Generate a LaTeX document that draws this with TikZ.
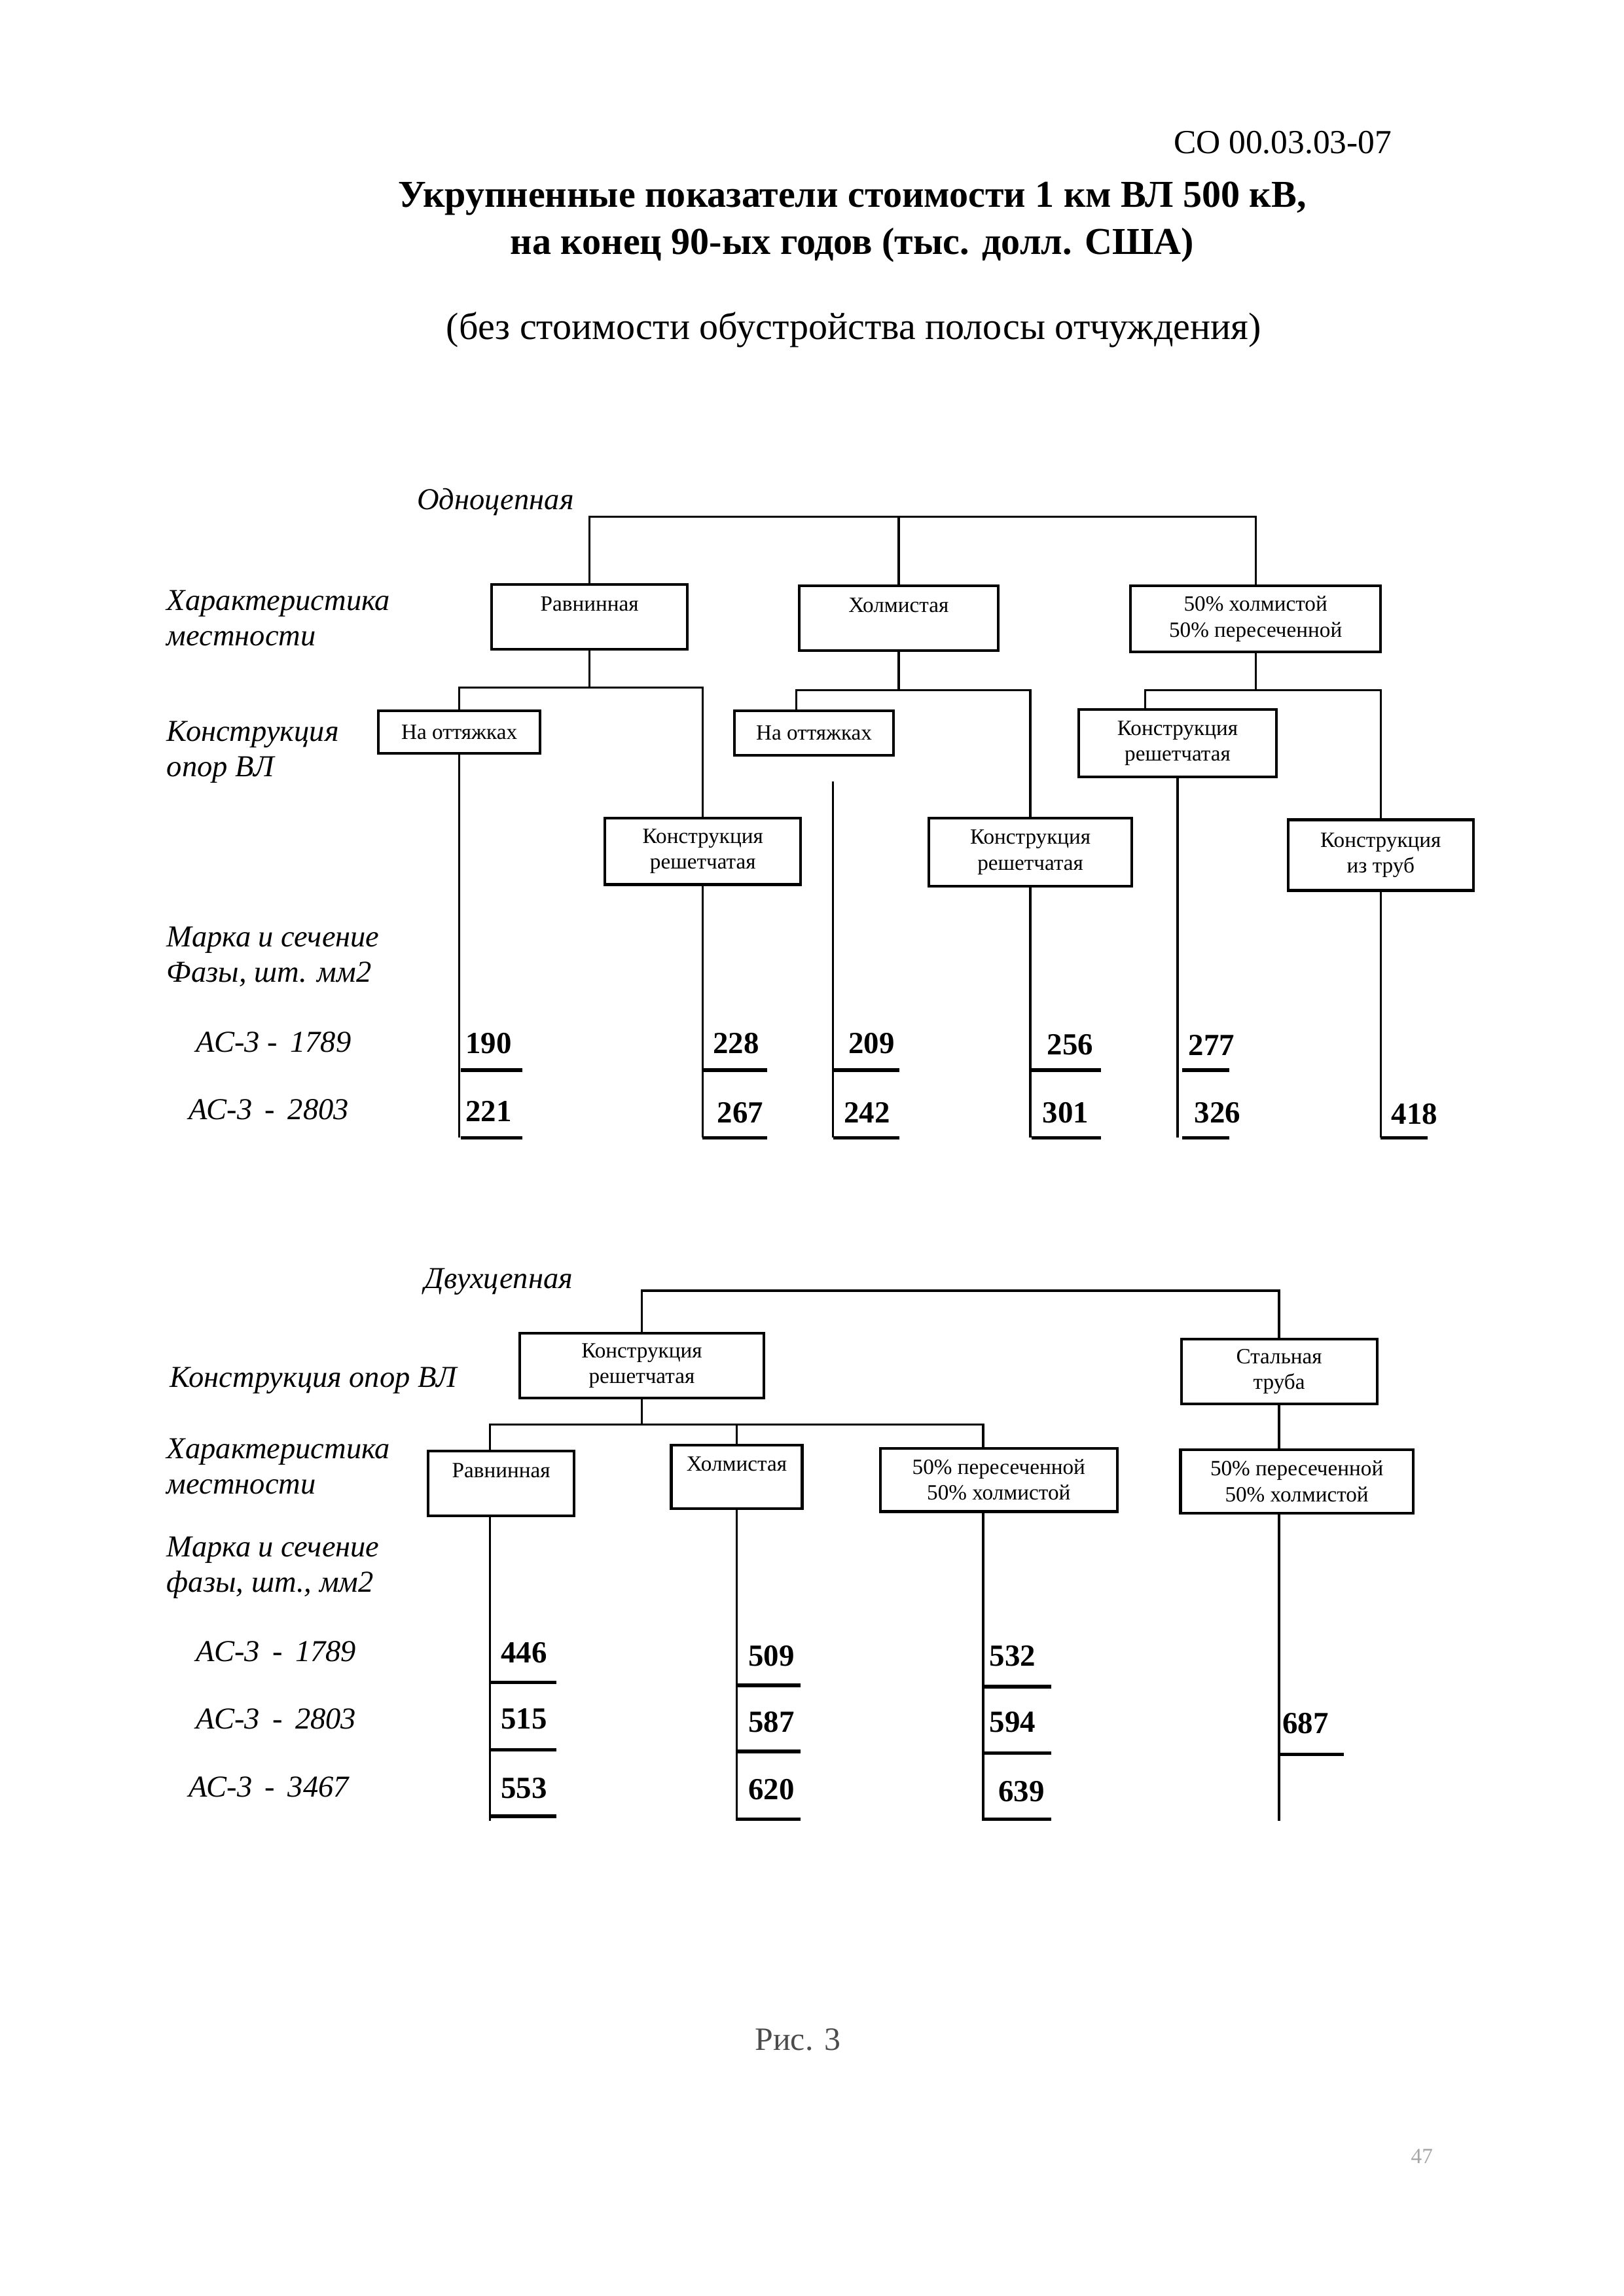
\documentclass[tikz,border=0pt]{standalone}
\usepackage{fontspec}
\setmainfont{Liberation Serif}
\newcommand{\pxu}{0.019039cm}
\tikzset{
  box/.style={draw, line width=1pt, inner sep=0pt, align=center, font=\fontsize{8}{9.5}\selectfont},
  wh/.style 2 args={minimum width=#1*\pxu, minimum height=#2*\pxu},
  lbl/.style={anchor=west, inner sep=0pt, align=left, font=\fontsize{11.2}{13}\selectfont\itshape},
  val/.style={anchor=west, inner sep=0pt, font=\fontsize{11.3}{12}\selectfont\bfseries},
  ln/.style={line width=0.8pt},
  uline/.style={line width=1.3pt}
}
\begin{document}
\begin{tikzpicture}[x=\pxu, y=-\pxu]
    \useasboundingbox (0,0) rectangle (1103,1560);
    % heading
    \node [anchor=west, inner sep=0pt, font=\fontsize{12.4}{13}\selectfont] (code) at (797,97) {СО 00.03.03-07};
    \node [align=center, inner sep=0pt, font=\fontsize{14}{17.3}\selectfont\bfseries] (title) at (579,151) {Укрупненные показатели стоимости 1 км ВЛ 500 кВ,\\на конец 90-ых годов (тыс. долл. США)};
    \node [inner sep=0pt, font=\fontsize{14}{14}\selectfont] (sub) at (580,224) {(без стоимости обустройства полосы отчуждения)};

    % single circuit
    \node [lbl] (one) at (283,341) {Одноцепная};
    \node [lbl] (terr1) at (113,420) {Характеристика\\местности};
    \node [lbl] (cons1) at (113,511) {Конструкция\\опор ВЛ};
    \node [lbl] (mark1) at (113,650) {Марка и сечение\\Фазы, шт. мм2};
    \node [lbl] (ac1a) at (133,708) {АС-3 -\, 1789};
    \node [lbl] (ac1b) at (128,754) {АС-3 \,-\, 2803};

    \node [box, wh={133}{44}] (rav1) at (400.5,419) {Равнинная\\~};
    \node [box, wh={135}{44}] (hol1) at (610.5,420) {Холмистая\\~};
    \node [box, wh={170}{45}] (mix1) at (853,420.5) {50\% холмистой\\50\% пересеченной};
    \node [box, wh={110}{29}] (ott1) at (312,497.5) {На оттяжках};
    \node [box, wh={133}{45}] (resh1) at (477.5,578.5) {Конструкция\\решетчатая};
    \node [box, wh={108}{30}] (ott2) at (553,498) {На оттяжках};
    \node [box, wh={138}{46}] (resh2) at (700,579) {Конструкция\\решетчатая};
    \node [box, wh={134}{46}] (resh3) at (800,505) {Конструкция\\решетчатая};
    \node [box, wh={126}{48}] (truby) at (938,581) {Конструкция\\из труб};

    \coordinate (bus1) at (0,351);
    \coordinate (bus2) at (0,467);
    \coordinate (bus3) at (0,469);
    \coordinate (c3) at (541,469);
    \coordinate (c3b) at (566,531);
    \coordinate (c5) at (778,469);
    \coordinate (end1) at (0,773);
    \draw [ln] (rav1.north) |- (bus1 -| mix1.north) -- (mix1.north);
    \draw [ln] (hol1.north) -- (hol1.north |- bus1);
    \draw [ln] (rav1.south) -- (rav1.south |- bus2);
    \draw [ln] (ott1.north) |- (bus2 -| resh1.north) -- (resh1.north);
    \draw [ln] (hol1.south) -- (hol1.south |- bus3);
    \draw [ln] (c3 |- ott2.north) -- (c3) -| (resh2.north);
    \draw [ln] (mix1.south) -- (mix1.south |- bus3);
    \draw [ln] (c5 |- resh3.north) -- (c5) -| (truby.north);
    \draw [ln] (ott1.south) -- (ott1.south |- end1);
    \draw [ln] (resh1.south) -- (resh1.south |- end1);
    \draw [ln] (c3b) -- (c3b |- end1);
    \draw [ln] (resh2.south) -- (resh2.south |- end1);
    \draw [ln] (resh3.south) -- (resh3.south |- end1);
    \draw [ln] (truby.south) -- (truby.south |- end1);

    \foreach \xx/\yy/\v in {316/709/190, 484/709/228, 576/709/209, 711/710/256, 807/710/277,
                            316/755/221, 487/756/267, 573/756/242, 708/756/301, 811/756/326, 945/757/418}
        \node [val] (n\v) at (\xx,\yy) {\v};
    \foreach \xa/\xb in {313/355, 477/521, 566/611, 701/748, 803/835}
        \draw [uline] (\xa,727) -- (\xb,727);
    \foreach \xa/\xb in {313/355, 477/521, 566/611, 701/748, 803/835, 938/970}
        \draw [uline] (\xa,773) -- (\xb,773);

    % double circuit
    \node [lbl] (two) at (288,871) {Двухцепная};
    \node [lbl] (cons2) at (115,938) {Конструкция опор ВЛ};
    \node [lbl] (terr2) at (113,996.5) {Характеристика\\местности};
    \node [lbl] (mark2) at (113,1065) {Марка и сечение\\фазы, шт., мм2};
    \node [lbl] (ac2a) at (133,1122) {АС-3 \,-\, 1789};
    \node [lbl] (ac2b) at (133,1168) {АС-3 \,-\, 2803};
    \node [lbl] (ac2c) at (128,1214) {АС-3 \,-\, 3467};

    \node [box, wh={166}{44}] (reshL) at (436,928) {Конструкция\\решетчатая};
    \node [box, wh={133}{44}] (stal) at (869,932) {Стальная\\труба};
    \node [box, wh={99}{44}] (ravL) at (340.5,1008) {Равнинная\\~};
    \node [box, wh={89}{43}] (holL) at (500.5,1003.5) {Холмистая\\~};
    \node [box, wh={161}{43}] (mixL) at (678.5,1005.5) {50\% пересеченной\\50\% холмистой};
    \node [box, wh={158}{43}] (mixR) at (881,1006.5) {50\% пересеченной\\50\% холмистой};

    \coordinate (bus5) at (0,877);
    \coordinate (colA) at (333,968);
    \coordinate (colC) at (668,968);
    \coordinate (end2) at (0,1237);
    \draw [ln] (reshL.north) |- (bus5 -| stal.north) -- (stal.north);
    \draw [ln] (reshL.south) -- (reshL.south |- colA);
    \draw [ln] (colA |- ravL.north) -- (colA) -- (colC) -- (colC |- mixL.north);
    \draw [ln] (holL.north) -- (holL.north |- colA);
    \draw [ln] (stal.south) -- (stal.south |- mixR.north);
    \draw [ln] (colA |- ravL.south) -- (colA |- end2);
    \draw [ln] (holL.south) -- (holL.south |- end2);
    \draw [ln] (colC |- mixL.south) -- (colC |- end2);
    \draw [ln] (stal.south |- mixR.south) -- (stal.south |- end2);

    \foreach \xx/\yy/\v in {340/1123/446, 508/1125/509, 672/1125/532,
                            340/1168/515, 508/1170/587, 672/1170/594, 871/1171/687,
                            340/1215/553, 508/1216/620, 678/1217/639}
        \node [val] (n\v) at (\xx,\yy) {\v};
    \foreach \xa/\xb/\yy in {333/378/1143, 500/544/1145, 668/714/1146,
                             333/378/1189, 500/544/1190, 668/714/1191, 868/913/1192,
                             333/378/1234, 500/544/1236, 668/714/1236}
        \draw [uline] (\xa,\yy) -- (\xb,\yy);

    \node [inner sep=0pt, text=black!70, font=\fontsize{12}{12}\selectfont] (fig) at (542,1386) {Рис. 3};
    \node [inner sep=0pt, text=black!35, font=\fontsize{8}{8}\selectfont] (page) at (966,1465) {47};
\end{tikzpicture}
\end{document}
